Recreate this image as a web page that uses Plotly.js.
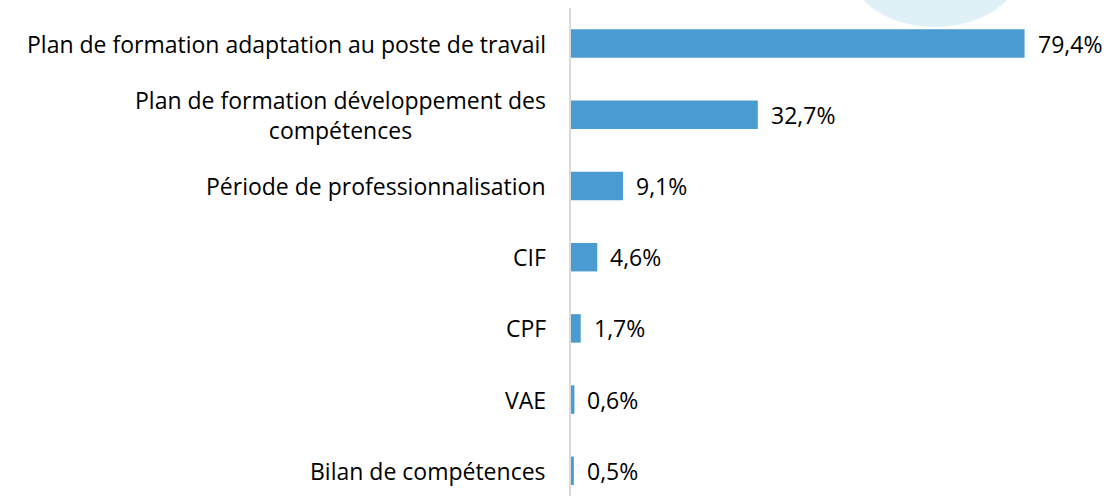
<!DOCTYPE html>
<html><head><meta charset="utf-8">
<script src="https://cdn.plot.ly/plotly-3.0.1.min.js"></script>
<style>html,body{margin:0;padding:0;background:#fff}</style>
</head><body>
<div id="chart" style="width:1112px;height:496px"></div>
<script>
const categories = [
  "Plan de formation adaptation au poste de travail",
  "Plan de formation développement des<br>compétences",
  "Période de professionnalisation",
  "CIF",
  "CPF",
  "VAE",
  "Bilan de compétences"
];
const values = [79.4, 32.7, 9.1, 4.6, 1.7, 0.6, 0.5];

const FONT = "'Open Sans', sans-serif";
const fmt = v => v.toFixed(1).replace('.', ',') + '%';

const annotations = [];
categories.forEach((c, i) => {
  annotations.push({
    x: 0, xref: 'paper', y: c, yref: 'y',
    text: c, showarrow: false, xanchor: 'right', align: 'center',
    xshift: -23, font: {family: FONT, size: 23, color: '#000'}
  });
  annotations.push({
    x: values[i], xref: 'x', y: c, yref: 'y',
    text: fmt(values[i]), showarrow: false, xanchor: 'left',
    xshift: 11, font: {family: FONT, size: 23, color: '#000'}
  });
});

const trace = {
  type: 'bar', orientation: 'h',
  x: values, y: categories,
  marker: {color: '#4B9BD3'},
  hoverinfo: 'none'
};

const layout = {
  width: 1112, height: 496,
  margin: {l: 571, r: 0, t: 8, b: 0},
  paper_bgcolor: '#fff', plot_bgcolor: 'rgba(0,0,0,0)',
  bargap: 0.6,
  showlegend: false,
  xaxis: {range: [0, 94.7], showgrid: false, zeroline: false, showticklabels: false, showline: false, fixedrange: true},
  yaxis: {type: 'category', range: [6.354, -0.5], showgrid: false, zeroline: false, showticklabels: false,
          showline: true, linecolor: '#d9d9d9', linewidth: 2, fixedrange: true},
  shapes: [{
    type: 'circle', xref: 'paper', yref: 'paper', layer: 'below',
    x0: 0.5065, x1: 0.8392, y0: 0.961, y1: 1.2357,
    fillcolor: '#dff0f6', line: {width: 0}
  }],
  annotations: annotations
};

Plotly.newPlot('chart', [trace], layout, {displayModeBar: false, staticPlot: true});
</script>
</body></html>
